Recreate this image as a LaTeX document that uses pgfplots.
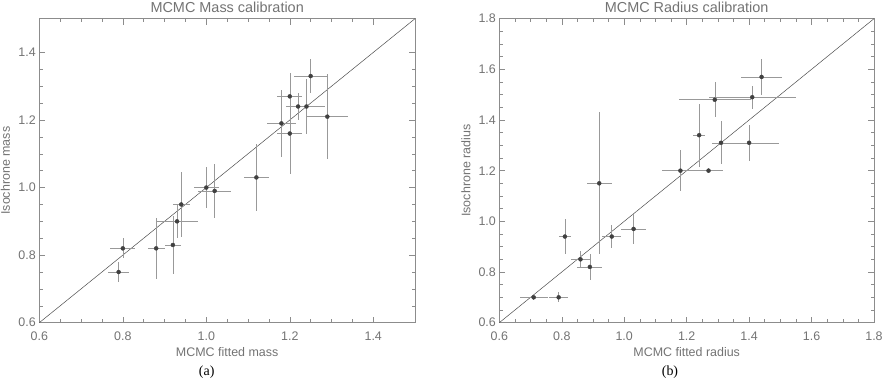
\documentclass[border=0pt]{standalone}
\usepackage{fontspec}
\setmainfont{Liberation Sans}
\newfontfamily\capfont{Liberation Serif}
\usepackage{pgfplots}
\usepackage{pgfplotstable}
\pgfplotsset{compat=1.18}

% x y ex ey
\pgfplotstableread{
x y ex ey
0.79 0.75 0.025 0.03
0.80 0.82 0.03 0.03
0.88 0.82 0.02 0.09
0.92 0.83 0.02 0.085
0.93 0.90 0.05 0.05
0.94 0.95 0.02 0.095
1.00 1.00 0.03 0.06
1.02 0.99 0.04 0.08
1.12 1.03 0.03 0.10
1.18 1.19 0.035 0.10
1.20 1.16 0.03 0.12
1.20 1.27 0.03 0.07
1.22 1.24 0.03 0.04
1.24 1.24 0.045 0.08
1.25 1.33 0.04 0.05
1.29 1.21 0.05 0.125
}\massdata

\pgfplotstableread{
x y ex ey
0.71 0.70 0.045 0.01
0.79 0.70 0.03 0.02
0.81 0.94 0.02 0.07
0.86 0.85 0.03 0.033
0.89 0.82 0.04 0.05
0.92 1.15 0.04 0.28
0.96 0.94 0.03 0.045
1.03 0.97 0.04 0.06
1.18 1.20 0.06 0.08
1.24 1.34 0.02 0.125
1.27 1.20 0.045 0.01
1.29 1.48 0.115 0.07
1.31 1.31 0.03 0.085
1.40 1.31 0.095 0.07
1.41 1.49 0.14 0.045
1.44 1.57 0.065 0.07
}\radiusdata

\pgfplotsset{
  idl/.style={
    scale only axis,
    height=304bp,
    axis line style={black!45, line width=0.5pt},
    tick style={black!45, line width=0.5pt},
    tick align=inside,
    major tick length=6bp,
    minor tick length=3.5bp,
    minor x tick num=3,
    minor y tick num=3,
    every axis title shift=0pt,
    font=\fontsize{12.5}{14}\selectfont\color{black!55},
    title style={font=\fontsize{14.5}{16}\selectfont\color{black!55},
      at={(axis description cs:0.5,1)}, anchor=base, yshift=6.5bp},
    xlabel style={at={(axis description cs:0.5,0)}, anchor=north, yshift=-21.5bp},
    xticklabel style={yshift=-6bp},
    /pgf/number format/.cd, fixed, fixed zerofill, precision=1, assume math mode=true,
  },
  errs/.style={
    only marks, mark=*, mark size=2bp,
    mark options={fill=black!75, draw=black!75},
    error bars/.cd,
      x dir=both, x explicit, y dir=both, y explicit,
      error mark=none,
      error bar style={black!40, line width=0.5pt},
  },
}

\begin{document}
\begin{tikzpicture}
\useasboundingbox (0,0) rectangle (883bp,384bp);

\begin{axis}[idl,
  at={(39.33bp,61.33bp)}, anchor=south west,
  width=375.67bp,
  xmin=0.6, xmax=1.5, ymin=0.6, ymax=1.5,
  xtick={0.6,0.8,1.0,1.2,1.4},
  ytick={0.6,0.8,1.0,1.2,1.4},
  title={MCMC Mass calibration},
  xlabel={MCMC fitted mass},
  ylabel={Isochrone mass},
  ylabel style={at={(axis description cs:-0.0905,0.5)}, anchor=center},
]
\addplot[black!70, line width=0.5pt] coordinates {(0.6,0.6) (1.5,1.5)};
\addplot[errs] table[x=x, y=y, x error=ex, y error=ey] {\massdata};
\end{axis}

\begin{axis}[idl,
  at={(499.33bp,61.33bp)}, anchor=south west,
  width=374.67bp,
  xmin=0.6, xmax=1.8, ymin=0.6, ymax=1.8,
  xtick={0.6,0.8,1.0,1.2,1.4,1.6,1.8},
  ytick={0.6,0.8,1.0,1.2,1.4,1.6,1.8},
  title={MCMC Radius calibration},
  xlabel={MCMC fitted radius},
  ylabel={Isochrone radius},
  ylabel style={at={(axis description cs:-0.0894,0.5)}, anchor=center},
]
\addplot[black!70, line width=0.5pt] coordinates {(0.6,0.6) (1.8,1.8)};
\addplot[errs] table[x=x, y=y, x error=ex, y error=ey] {\radiusdata};
\end{axis}

\node[anchor=base, font=\capfont\fontsize{14}{16}\selectfont] at (206.7bp,8.3bp) {(a)};
\node[anchor=base, font=\capfont\fontsize{14}{16}\selectfont] at (670bp,8.3bp) {(b)};
\end{tikzpicture}
\end{document}
